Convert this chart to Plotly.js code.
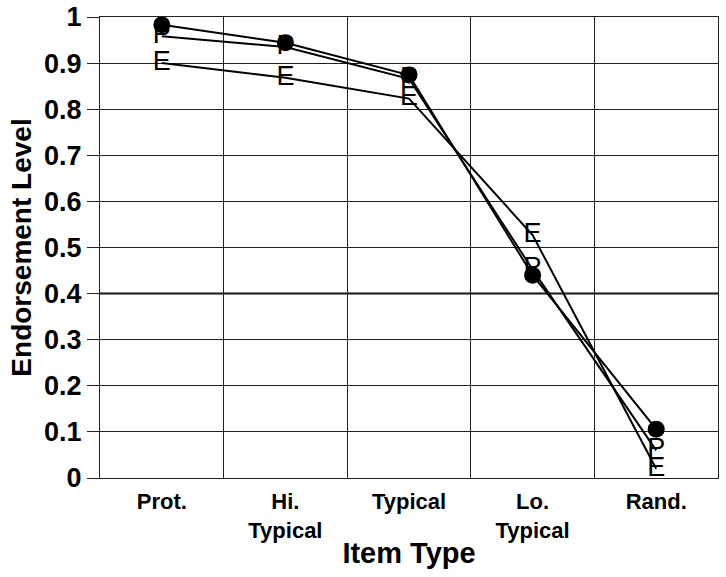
<!DOCTYPE html>
<html>
<head>
<meta charset="utf-8">
<script src="https://cdn.plot.ly/plotly-3.0.1.min.js"></script>
<style>
  html, body { margin: 0; padding: 0; background: #fff; }
  #chart { width: 726px; height: 577px; }
</style>
</head>
<body>
<div id="chart"></div>
<script>
// Item types along the x axis
const itemTypes = ["Prot.", "Hi.<br>Typical", "Typical", "Lo.<br>Typical", "Rand."];

// Endorsement levels
const circleVals = [0.983, 0.944, 0.874, 0.440, 0.106];
const pVals = [0.958, 0.935, 0.866, 0.452, 0.060];
const eVals = [0.900, 0.868, 0.823, 0.527, 0.020];

const yTicks = [0, 0.1, 0.2, 0.3, 0.4, 0.5, 0.6, 0.7, 0.8, 0.9, 1];

const boldFont = "Liberation Sans, Arial, sans-serif";
const plainFont = "Liberation Sans, Arial, sans-serif";

const circleTrace = {
    x: itemTypes,
    y: circleVals,
    type: "scatter",
    mode: "lines+markers",
    line: { color: "#000", width: 2 },
    marker: { color: "#000", size: 17, symbol: "circle" },
    cliponaxis: false,
};

const pTrace = {
    x: itemTypes,
    y: pVals,
    type: "scatter",
    mode: "lines+text",
    text: pVals.map(() => "P"),
    textposition: "middle center",
    textfont: { family: plainFont, size: 27, color: "#000" },
    line: { color: "#000", width: 2 },
    cliponaxis: false,
};

const eTrace = {
    x: itemTypes,
    y: eVals,
    type: "scatter",
    mode: "lines+text",
    text: eVals.map(() => "E"),
    textposition: "middle center",
    textfont: { family: plainFont, size: 27, color: "#000" },
    line: { color: "#000", width: 2 },
    cliponaxis: false,
};

const layout = {
    width: 726,
    height: 577,
    showlegend: false,
    margin: { l: 100, r: 8, t: 17, b: 99 },
    paper_bgcolor: "#fff",
    plot_bgcolor: "#fff",
    xaxis: {
        type: "category",
        range: [-0.5, 4.5],
        tickson: "boundaries",
        showgrid: true,
        gridcolor: "#222",
        gridwidth: 1,
        showline: true,
        linecolor: "#222",
        linewidth: 1,
        mirror: true,
        ticks: "",
        ticklabelstandoff: 4,
        tickfont: { family: boldFont, size: 22, color: "#000", weight: "bold" },
        title: {
            text: "<b>Item Type</b>",
            font: { family: boldFont, size: 29, color: "#000" },
            standoff: 0,
        },
        zeroline: false,
        fixedrange: true,
    },
    yaxis: {
        range: [0, 1],
        tickvals: yTicks,
        ticktext: yTicks.map(String),
        showgrid: true,
        gridcolor: "#222",
        gridwidth: 1,
        showline: true,
        linecolor: "#222",
        linewidth: 1,
        mirror: true,
        ticks: "outside",
        ticklen: 12,
        tickcolor: "#222",
        tickfont: { family: boldFont, size: 27, color: "#000", weight: "bold" },
        title: {
            text: "<b>Endorsement Level</b>",
            font: { family: boldFont, size: 28, color: "#000" },
            standoff: 4,
        },
        zeroline: false,
        fixedrange: true,
    },
    shapes: [
        // the heavier 0.4 line
        { type: "line", xref: "paper", yref: "y", x0: 0, x1: 1, y0: 0.4, y1: 0.4,
          line: { color: "#000", width: 2 }, layer: "below" },
    ],
};

Plotly.newPlot("chart", [circleTrace, pTrace, eTrace], layout, { displayModeBar: false, staticPlot: true });
</script>
</body>
</html>
